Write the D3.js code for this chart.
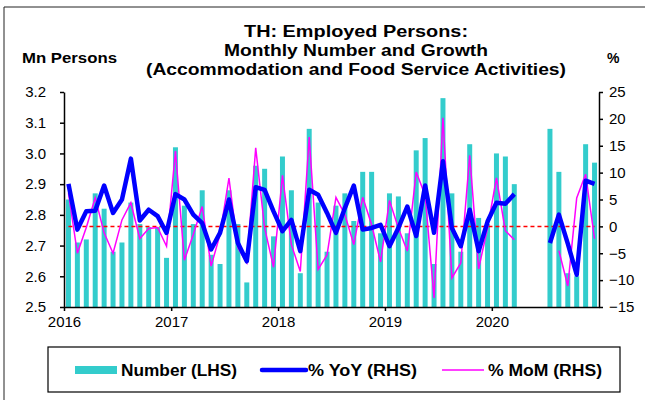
<!DOCTYPE html>
<html>
<head>
<meta charset="utf-8">
<script src="https://cdn.jsdelivr.net/npm/d3@7"></script>
<style>
  body { margin: 0; background: #fff; }
  svg { display: block; font-family: "Liberation Sans", Arial, sans-serif; }
</style>
</head>
<body>
<div id="chart"></div>
<script>
// Thai employed persons, accommodation & food service, Jan 2016 - Dec 2020
const months = d3.timeMonth.range(new Date(2016, 0, 1), new Date(2021, 0, 1));

// Mn persons (LHS); Apr-Jun 2020 not published
const number = [2.85, 2.71, 2.72, 2.87, 2.82, 2.68, 2.71, 2.84, 2.77, 2.76, 2.76, 2.66,
                3.02, 2.83, 2.77, 2.88, 2.67, 2.64, 2.88, 2.77, 2.58, 2.96, 2.95, 2.73,
                2.99, 2.88, 2.61, 3.08, 2.84, 2.68, 2.83, 2.87, 2.78, 2.94, 2.94, 2.74,
                2.87, 2.86, 2.74, 3.01, 3.05, 2.64, 3.18, 2.87, 2.68, 3.03, 2.79, 2.77,
                3.00, 2.99, 2.90, null, null, null, 3.08, 2.94, 2.61, 2.60, 3.03, 2.97];

// % YoY (RHS)
const yoy = [7.9, -0.6, 2.8, 2.9, 7.6, 2.5, 5.0, 12.6, 1.1, 3.1, 1.9, -1.2,
             6.0, 5.0, 2.2, 0.6, -4.3, -1.2, 5.0, -3.1, -6.5, 7.3, 6.8, 2.8,
             -0.9, 1.2, -4.6, 6.8, 5.9, 2.5, -1.2, 3.4, 7.6, -0.6, -0.3, 0.3,
             -3.7, -0.3, 3.7, -1.8, 7.6, -1.2, 12.1, -0.3, -3.7, 3.1, -4.6, 0.9,
             4.4, 4.2, 6.0, null, null, null, -3.1, 2.2, -3.2, -9.0, 8.5, 7.9];

// % MoM (RHS)
const mom = [6.2, -5.0, -0.2, 5.3, -1.2, -5.0, 1.2, 4.4, -2.3, -0.4, -0.2, -3.7,
             14.0, -6.3, -1.5, 3.7, -7.4, -1.5, 9.0, -4.0, -6.8, 14.6, -0.3, -7.6,
             9.5, -3.4, -8.4, 16.6, -8.0, -5.3, 5.4, 2.2, -3.4, 5.4, 0.3, -6.6,
             4.8, -0.3, -4.6, 10.1, 5.8, -13.3, 20.2, -9.6, -6.8, 13.2, -7.9, -0.3,
             9.0, -0.8, -2.5, null, null, null, null, -4.5, -11.1, 5.3, 9.7, -2.3];

const leftTicks = [2.5, 2.6, 2.7, 2.8, 2.9, 3.0, 3.1, 3.2];
const rightTicks = [-15, -10, -5, 0, 5, 10, 15, 20, 25];
const yearTicks = [2016, 2017, 2018, 2019, 2020];
const titleLines = ["TH: Employed Persons:", "Monthly Number and Growth",
                    "(Accommodation and Food Service Activities)"];

const W = 645, H = 400;
const plot = {left: 64, right: 599, top: 92, bottom: 307};

const svg = d3.select("#chart").append("svg")
    .attr("width", W)
    .attr("height", H);

// frame (top and left edges visible)
svg.append("path")
    .attr("d", `M4,${H}V7H${W}`)
    .attr("fill", "none")
    .attr("stroke", "#222")
    .attr("stroke-width", 1);

// Scales
const x = d3.scaleBand()
    .domain(months.map((d, i) => i))
    .range([plot.left, plot.right])
    .paddingInner(0.44)
    .paddingOuter(0.22);

const xTime = d3.scaleTime()
    .domain([new Date(2016, 0, 1), new Date(2021, 0, 1)])
    .range([plot.left, plot.right]);

const yL = d3.scaleLinear().domain([2.5, 3.2]).range([plot.bottom, plot.top]);
const yR = d3.scaleLinear().domain([-15, 25]).range([plot.bottom, plot.top]);

const cx = i => x(i) + x.bandwidth() / 2;

// Bars
svg.append("g")
    .selectAll("rect")
    .data(number.map((v, i) => ({i, v})).filter(d => d.v != null))
    .enter()
    .append("rect")
    .attr("x", d => x(d.i))
    .attr("width", x.bandwidth())
    .attr("y", d => yL(d.v))
    .attr("height", d => yL(2.5) - yL(d.v))
    .attr("fill", "#33CCCC");

// zero line (RHS)
svg.append("line")
    .attr("x1", cx(0))
    .attr("x2", cx(months.length - 1))
    .attr("y1", yR(0))
    .attr("y2", yR(0))
    .attr("stroke", "#FF0000")
    .attr("stroke-width", 1.5)
    .attr("stroke-dasharray", "4,3");

const line = d3.line()
    .defined(d => d.v != null)
    .x(d => cx(d.i))
    .y(d => yR(d.v));

svg.append("path")
    .datum(mom.map((v, i) => ({i, v})))
    .attr("d", line)
    .attr("fill", "none")
    .attr("stroke", "#FF00FF")
    .attr("stroke-width", 1.5);

svg.append("path")
    .datum(yoy.map((v, i) => ({i, v})))
    .attr("d", line)
    .attr("fill", "none")
    .attr("stroke", "#0000FF")
    .attr("stroke-width", 4.5)
    .attr("stroke-linejoin", "round");

// Axes
const axisStyle = g => {
    g.select(".domain").attr("stroke", "#000").attr("stroke-width", 1.5);
    g.selectAll(".tick line").attr("stroke", "#000").attr("stroke-width", 1.5);
    g.selectAll("text")
        .attr("fill", "#000")
        .style("font-size", "15px")
        .style("font-family", "'Liberation Sans', Arial, sans-serif");
};

svg.append("g")
    .attr("transform", `translate(${plot.left},0)`)
    .call(d3.axisLeft(yL).tickValues(leftTicks).tickSize(4).tickSizeOuter(0)
        .tickPadding(14).tickFormat(d3.format(".1f")))
    .call(axisStyle);

svg.append("g")
    .attr("transform", `translate(${plot.right},0)`)
    .call(d3.axisRight(yR).tickValues(rightTicks).tickSize(4).tickSizeOuter(0)
        .tickPadding(6))
    .call(axisStyle);

svg.append("g")
    .attr("transform", `translate(0,${plot.bottom})`)
    .call(d3.axisBottom(xTime)
        .tickValues(yearTicks.map(y => new Date(y, 0, 1)))
        .tickSize(4).tickSizeOuter(0).tickPadding(5)
        .tickFormat(d3.timeFormat("%Y")))
    .call(axisStyle);

// Titles
const titleWidths = [224, 264, 420];
titleLines.forEach((t, i) => {
    svg.append("text")
        .attr("x", 356)
        .attr("y", 37 + i * 19)
        .attr("text-anchor", "middle")
        .attr("textLength", titleWidths[i])
        .attr("lengthAdjust", "spacingAndGlyphs")
        .style("font-size", "16px")
        .style("font-weight", "bold")
        .text(t);
});

svg.append("text")
    .attr("x", 22)
    .attr("y", 63)
    .attr("textLength", 95)
    .attr("lengthAdjust", "spacingAndGlyphs")
    .style("font-size", "14px")
    .style("font-weight", "bold")
    .text("Mn Persons");

svg.append("text")
    .attr("x", 607)
    .attr("y", 63)
    .style("font-size", "14px")
    .style("font-weight", "bold")
    .text("%");

// Legend
const legend = svg.append("g");
legend.append("rect")
    .attr("x", 48).attr("y", 347)
    .attr("width", 572).attr("height", 45)
    .attr("fill", "#fff")
    .attr("stroke", "#000")
    .attr("stroke-width", 1.2);

const legendY = 370;
legend.append("rect")
    .attr("x", 75).attr("y", legendY - 4)
    .attr("width", 42).attr("height", 8)
    .attr("fill", "#33CCCC");
legend.append("line")
    .attr("x1", 262).attr("x2", 306)
    .attr("y1", legendY).attr("y2", legendY)
    .attr("stroke", "#0000FF").attr("stroke-width", 4.5)
    .attr("stroke-linecap", "round");
legend.append("line")
    .attr("x1", 442).attr("x2", 484)
    .attr("y1", legendY).attr("y2", legendY)
    .attr("stroke", "#FF00FF").attr("stroke-width", 1.5);

[["Number (LHS)", 121, 116], ["% YoY (RHS)", 308, 109], ["% MoM (RHS)", 488, 114]]
    .forEach(([t, lx, w]) => {
        legend.append("text")
            .attr("x", lx)
            .attr("y", legendY + 6)
            .attr("textLength", w)
            .attr("lengthAdjust", "spacingAndGlyphs")
            .style("font-size", "16px")
            .style("font-weight", "bold")
            .text(t);
    });
</script>
</body>
</html>
